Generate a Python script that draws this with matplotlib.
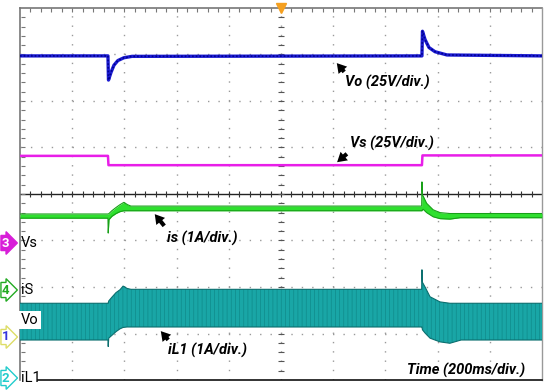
import numpy as np
import matplotlib
matplotlib.use("Agg")
import matplotlib.pyplot as plt

W, H = 550, 391

# time axis in ms (200 ms/div, 10 div), vertical axis in divisions (8 div)
vo_t = [0, 337, 339, 349, 360, 375, 398, 429, 1540, 1542, 1552, 1567, 1590, 1636, 2000]
vo_v = [6.97, 6.97, 6.45, 6.62, 6.77, 6.87, 6.93, 6.96, 6.97, 7.50, 7.32, 7.15, 7.06, 6.99, 6.97]

vs_t = [0, 337, 339, 1540, 1542, 2000]
vs_v = [4.82, 4.82, 4.62, 4.62, 4.83, 4.83]

is_t = [0, 337, 338, 341, 352, 368, 383, 398, 412, 425, 1539, 1540, 1542, 1545, 1558, 1583, 1609, 1647, 1686, 2000]
is_hi = [3.57, 3.57, 3.57, 3.58, 3.64, 3.71, 3.77, 3.82, 3.77, 3.74, 3.74, 4.26, 3.98, 3.95, 3.80, 3.66, 3.60, 3.58, 3.58, 3.58]
is_lo = [3.48, 3.48, 3.16, 3.45, 3.52, 3.58, 3.62, 3.64, 3.64, 3.64, 3.64, 3.64, 3.66, 3.67, 3.60, 3.51, 3.47, 3.46, 3.49, 3.49]

il_t = [0, 337, 338, 340, 352, 368, 383, 395, 410, 425, 1539, 1540, 1542, 1552, 1571, 1609, 1647, 1690, 2000]
il_hi = [1.65, 1.65, 1.65, 1.70, 1.78, 1.88, 1.94, 2.02, 1.97, 1.95, 1.95, 2.37, 2.10, 2.00, 1.79, 1.68, 1.65, 1.65, 1.65]
il_lo = [0.86, 0.86, 0.72, 0.90, 0.96, 1.04, 1.10, 1.13, 1.14, 1.14, 1.14, 1.14, 1.08, 1.01, 0.90, 0.82, 0.79, 0.86, 0.86]

fig = plt.figure(figsize=(W / 100, H / 100), dpi=100)
x0, x1, y0, y1 = 20, 542, 8, 380
ax = fig.add_axes([x0 / W, 1 - y1 / H, (x1 - x0) / W, (y1 - y0) / H])
ax.set_xlim(0, 2000)
ax.set_ylim(0, 8)
ax.set_xticks([])
ax.set_yticks([])
for s in ax.spines.values():
    s.set_visible(False)


def px(x, y):
    # pixel position -> data coords (for labels / arrows)
    return (x - x0) / (x1 - x0) * 2000, (y1 - y) / (y1 - y0) * 8


# scope graticule
for gx in range(200, 2000, 200):
    ax.axvline(gx, color="#9a9a9a", lw=1, ls=(0, (1, 5.7)), zorder=0)
for gy in range(1, 8):
    if gy != 4:
        ax.axhline(gy, color="#9a9a9a", lw=1, ls=(0, (1, 6.5)), zorder=0)
ax.axhline(4, color="#222222", lw=1, zorder=1)
ax.plot([0, 2000], [8, 8], color="#777777", lw=1.2, clip_on=False, zorder=1)
ax.plot([0, 0], [0, 8], color="#777777", lw=1.2, clip_on=False, zorder=1)
ax.plot([2000, 2000], [0, 8], color="#999999", lw=1, clip_on=False, zorder=1)
ax.plot(*zip(px(38, 380), px(542, 380)), color="#111111", lw=1.2, clip_on=False, zorder=1)
mx = np.arange(40, 2000, 40)
my = np.arange(0.2, 8, 0.2)
ax.plot(mx, np.full(mx.shape, 4), ls="none", marker="|", ms=4, mew=0.8, color="#333333", zorder=1)
ax.plot(mx, np.full(mx.shape, 7.95), ls="none", marker="|", ms=3, mew=0.8, color="#777777", zorder=1)
ax.plot(np.full(my.shape, 1000), my, ls="none", marker="_", ms=4, mew=0.8, color="#555555", zorder=1)
ax.plot(np.full(my.shape, 10), my, ls="none", marker="_", ms=3, mew=0.8, color="#777777", zorder=1)
ax.plot([1000], [8], marker="v", ms=7, color="#f5a020", clip_on=False, zorder=6)

# traces
ax.plot(vo_t, vo_v, color="#1c1cd2", lw=2.4, zorder=4)
ax.plot(vo_t, vo_v, color="#000090", lw=1.2, ls=(0, (1, 1.2)), zorder=4)
ax.plot(vs_t, vs_v, color="#e81ee8", lw=1.8, zorder=4)

ax.fill_between(is_t, is_lo, is_hi, color="#2ee02e", lw=0, zorder=3)
ax.plot(is_t, is_hi, color="#18a018", lw=0.8, zorder=3)
ax.plot(is_t, is_lo, color="#18a018", lw=0.8, zorder=3)

plt.rcParams["hatch.color"] = "#0f8a8a"
plt.rcParams["hatch.linewidth"] = 0.5
ax.fill_between(il_t, il_lo, il_hi, facecolor="#19a6a6", edgecolor="#0f8a8a", hatch="||||", lw=0, zorder=3)
ax.plot(il_t, il_hi, color="#0b6f6f", lw=0.8, zorder=3)
ax.plot(il_t, il_lo, color="#0b6f6f", lw=0.8, zorder=3)

# annotations
fam = ["Roboto", "DejaVu Sans"]
tkw = dict(fontsize=10.5, fontweight="bold", fontstyle="italic", family=fam, va="center", ha="left", zorder=7)
akw = dict(arrowstyle="simple,head_width=0.9,head_length=0.75,tail_width=0.33", color="black", lw=0,
           mutation_scale=9)

ax.text(*px(345, 82), "Vo (25V/div.)", **tkw)
ax.annotate("", xy=px(335, 61), xytext=px(346, 74), arrowprops=akw, zorder=7)
ax.text(*px(350, 143), "Vs (25V/div.)", **tkw)
ax.annotate("", xy=px(335, 164), xytext=px(349, 152), arrowprops=akw, zorder=7)
ax.text(*px(167, 238), "is (1A/div.)", **tkw)
ax.annotate("", xy=px(153, 212), xytext=px(166, 228), arrowprops=akw, zorder=7)
ax.text(*px(168, 350), "iL1 (1A/div.)", **tkw)
ax.annotate("", xy=px(159, 329), xytext=px(170, 342), arrowprops=akw, zorder=7)
ax.text(*px(407, 370), "Time (200ms/div.)", **tkw)

# channel markers on the left
lkw = dict(fontsize=10.5, family=fam, va="center", ha="left")
chans = [("3", "Vs", 243, "#d81ed8", "white", "#d81ed8"),
         ("4", "iS", 290, "white", "#22aa22", "#22aa22"),
         ("1", "Vo", 337, "white", "#3333dd", "#dddd66"),
         ("2", "iL1", 378, "white", "#22cccc", "#22cccc")]
for num, lab, yy, fc, tc, ec in chans:
    fig.text(2 / W, 1 - yy / H, num, color=tc, fontsize=9.5, fontweight="bold", family=fam,
             va="center", ha="left",
             bbox=dict(boxstyle="rarrow,pad=0.08", fc=fc, ec=ec, lw=1))
for num, lab, yy, fc, tc, ec in chans:
    if lab == "Vo":
        fig.text(21 / W, 1 - 320 / H, lab, color="black",
                 bbox=dict(boxstyle="square,pad=0.15", fc="white", ec="none"), **lkw)
    else:
        fig.text(21 / W, 1 - yy / H, lab, color="black", **lkw)

fig.savefig("out.png", dpi=100)
